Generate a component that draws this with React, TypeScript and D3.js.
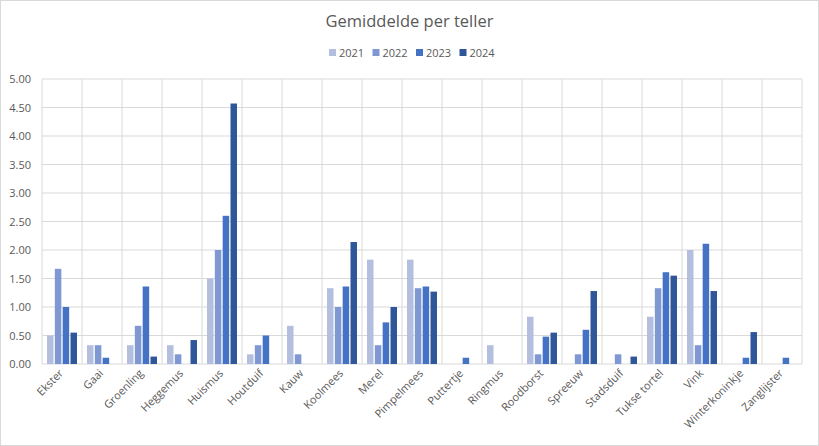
import React from "react";
import * as d3 from "d3";

const categories = ["Ekster","Gaai","Groenling","Heggemus","Huismus","Houtduif","Kauw","Koolmees","Merel","Pimpelmees","Puttertje","Ringmus","Roodborst","Spreeuw","Stadsduif","Tukse tortel","Vink","Winterkoninkje","Zanglijster"];
const seriesNames = ["2021","2022","2023","2024"];
const v2021 = [0.5,0.33,0.33,0.33,1.5,0.17,0.67,1.33,1.83,1.83,0,0.33,0.83,0,0,0.83,2.0,0,0];
const v2022 = [1.67,0.33,0.67,0.17,2.0,0.33,0.17,1.0,0.33,1.33,0,0,0.17,0.17,0.17,1.33,0.33,0,0];
const v2023 = [1.0,0.11,1.36,0,2.6,0.5,0,1.36,0.73,1.36,0.11,0,0.48,0.6,0,1.61,2.11,0.11,0.11];
const v2024 = [0.55,0,0.13,0.42,4.57,0,0,2.14,1.0,1.27,0,0,0.55,1.28,0.13,1.55,1.28,0.56,0];
const yTicks = [0,0.5,1,1.5,2,2.5,3,3.5,4,4.5,5];
const colors = ["#B4BFDF","#7F97D2","#4472C4","#30569A"];

export default function App() {
  const W = 819, H = 446;
  const left = 42, right = 802, top = 79, bottom = 364;
  const values = [v2021, v2022, v2023, v2024];
  const x = d3.scaleBand<string>().domain(categories).range([left, right]);
  const inner = d3.scaleBand<string>().domain(seriesNames).range([5, x.bandwidth() - 5]).paddingInner(0.17);
  const y = d3.scaleLinear().domain([0, 5]).range([bottom, top]);
  const txt = "#595959";
  const font = "'Open Sans', 'Noto Sans', sans-serif";
  return (
    <svg width={W} height={H} style={{ position: "absolute", left: 0, top: 0, fontFamily: font }}>
      <rect x={0.5} y={0.5} width={W - 1} height={H - 1} fill="#fff" stroke="#D9D9D9" />
      <text x={W / 2} y={27} textAnchor="middle" fontSize={16.5} fill={txt}>Gemiddelde per teller</text>
      {yTicks.map((t) => (
        <g key={t}>
          <line x1={left} x2={right} y1={y(t)} y2={y(t)} stroke="#D9D9D9" />
          <text x={31} y={y(t) + 4} textAnchor="end" fontSize={11} fill={txt}>{t.toFixed(2)}</text>
        </g>
      ))}
      {categories.map((c) => (
        <line key={c} x1={x(c)!} x2={x(c)!} y1={top} y2={bottom} stroke="#D9D9D9" />
      ))}
      <line x1={right} x2={right} y1={top} y2={bottom} stroke="#D9D9D9" />
      {categories.map((c, i) => (
        <g key={c}>
          {seriesNames.map((s, j) => {
            const v = values[j][i];
            if (!v) return null;
            return (
              <rect key={s} x={x(c)! + inner(s)!} width={inner.bandwidth()} y={y(v)} height={bottom - y(v)} fill={colors[j]} />
            );
          })}
        </g>
      ))}
      {categories.map((c) => {
        const cx = x(c)! + x.bandwidth() / 2 + 2;
        return (
          <text key={c} transform={`translate(${cx},${374}) rotate(-45)`} textAnchor="end" fontSize={11} fill={txt}>{c}</text>
        );
      })}
      {seriesNames.map((s, j) => {
        const lx = 329 + j * 43.5;
        return (
          <g key={s}>
            <rect x={lx} y={49} width={7} height={7} fill={colors[j]} />
            <text x={lx + 10} y={57} fontSize={11} fill={txt}>{s}</text>
          </g>
        );
      })}
    </svg>
  );
}
